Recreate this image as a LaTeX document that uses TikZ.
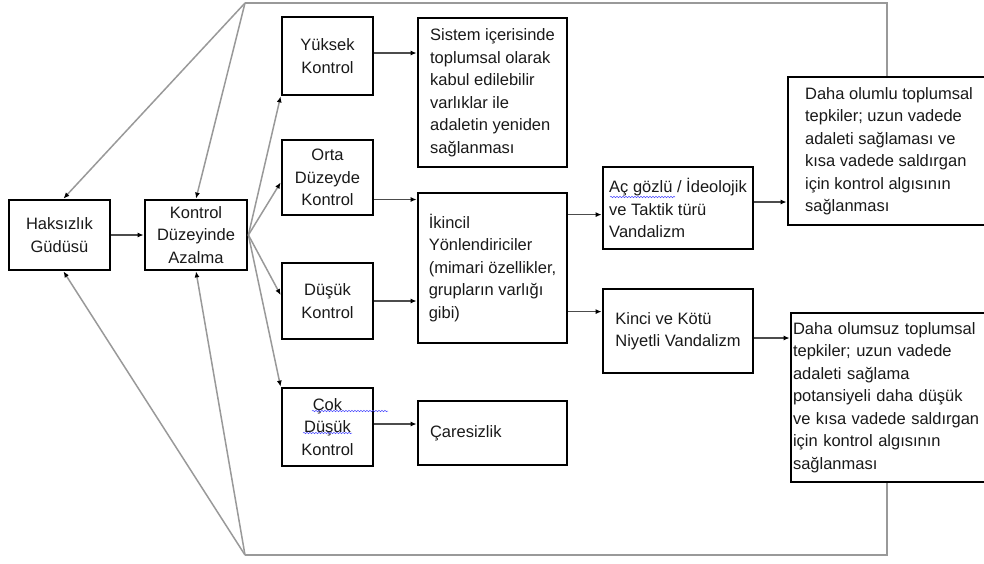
\documentclass[tikz,border=0pt]{standalone}
\usepackage{fontspec}
\setmainfont{Liberation Sans}
\usetikzlibrary{arrows.meta,calc,decorations.pathmorphing}
\begin{document}
\begin{tikzpicture}[x=1pt,y=-1pt,
  box/.style={draw=black, line width=2.8pt, inner sep=0pt, text=black!90,
    font=\fontsize{16.5}{22.5}\selectfont},
  fb/.style={draw=black!40, line width=1.5pt},
  fan/.style={fb, -{Latex[length=6pt,width=5pt,color=black]}},
  arr/.style={draw=black!70, line width=1.4pt, -{Latex[length=6pt,width=5pt,color=black]}},
  squig/.style={draw=blue!70, line width=0.5pt, decorate,
    decoration={snake, amplitude=0.7pt, segment length=3pt}}
]
\useasboundingbox (0,0) rectangle (984,563);

% left boxes
\node[box, minimum width=101pt, minimum height=70pt, align=center] (hak) at (59.5,235) {Haksızlık\\Güdüsü};
\node[box, minimum width=102pt, minimum height=70pt, align=center] (kon) at (196,235) {Kontrol\\Düzeyinde\\Azalma};

% control levels
\node[box, minimum width=91pt, minimum height=78pt, align=center] (yuk) at (327.5,56) {Yüksek\\Kontrol};
\node[box, minimum width=91pt, minimum height=75pt, align=center] (orta) at (327.5,177.5) {Orta\\Düzeyde\\Kontrol};
\node[box, minimum width=91pt, minimum height=76pt, align=center] (dus) at (327.5,301) {Düşük\\Kontrol};
\node[box, minimum width=91pt, minimum height=78pt, align=center] (cok) at (327.5,427) {Çok\\Düşük\\Kontrol};

% middle column
\node[box, minimum width=149pt, minimum height=149pt, align=left] (sis) at (492.5,92.5) {Sistem içerisinde\\toplumsal olarak\\kabul edilebilir\\varlıklar ile\\adaletin yeniden\\sağlanması};
\node[box, minimum width=149pt, minimum height=150pt, align=left] (ikn) at (492.5,268) {İkincil\\Yönlendiriciler\\(mimari özellikler,\\grupların varlığı\\gibi)};
\node[box, text width=125pt, inner xsep=12pt, minimum height=64pt, align=left] (car) at (492.5,433) {Çaresizlik};

% vandalism types
\node[box, minimum width=150pt, minimum height=82pt, align=left] (acg) at (678,208) {Aç gözlü / İdeolojik\\ve Taktik türü\\Vandalizm};
\node[box, minimum width=150pt, minimum height=84pt, align=left] (kin) at (678,331) {Kinci ve Kötü\\Niyetli Vandalizm};

% outcomes
\node[box, minimum width=202pt, minimum height=148pt, align=left] (d1) at (889,151) {Daha olumlu toplumsal\\tepkiler; uzun vadede\\adaleti sağlaması ve\\kısa vadede saldırgan\\için kontrol algısının\\sağlanması};
\node[box, text width=195pt, inner xsep=2pt, minimum height=169pt, align=left] (d2) at (890.5,397.5) {Daha olumsuz toplumsal\\tepkiler; uzun vadede\\adaleti sağlama\\potansiyeli daha düşük\\ve kısa vadede saldırgan\\için kontrol algısının\\sağlanması};

% feedback lines
\coordinate (tA) at (245,3);
\coordinate (bA) at (245,555);
\coordinate (d1t) at ($(d1.north)+(-2,0)$);
\coordinate (d2b) at ($(d2.south)+(-3.5,0)$);
\draw[fb] (d1t) -- (d1t |- tA) -- (tA);
\draw[fb] (d2b) -- (d2b |- bA) -- (bA);
\coordinate (hakT) at ($(hak.north)+(4,0)$);
\coordinate (hakB) at ($(hak.south)+(4,0)$);
\draw[fan] (tA) -- (hakT);
\draw[fan] (tA) -- (kon.north);
\draw[fan] (bA) -- (hakB);
\draw[fan] (bA) -- (kon.south);

% hak -> kon
\draw[arr] (hak.east) -- (kon.west);

% fan from kon
\coordinate (ortaIn) at ($(orta.west)+(0,5)$);
\coordinate (dusIn) at ($(dus.west)+(0,-6)$);
\draw[fan] (kon.east) -- (yuk.south west);
\draw[fan] (kon.east) -- (ortaIn);
\draw[fan] (kon.east) -- (dusIn);
\draw[fan] (kon.east) -- (cok.north west);

% horizontal arrows
\coordinate (p1) at ($(yuk.east)+(0,-3)$);
\draw[arr] (p1) -- (p1 -| sis.west);
\coordinate (p2) at ($(orta.east)+(0,22)$);
\draw[arr] (p2) -- (p2 -| ikn.west);
\draw[arr] (dus.east) -- (dus.east -| ikn.west);
\coordinate (p4) at ($(cok.east)+(0,-3)$);
\draw[arr] (p4) -- (p4 -| car.west);
\coordinate (p5) at ($(ikn.north east)+(0,23)$);
\draw[arr] (p5) -- (p5 -| acg.west);
\coordinate (p6) at ($(ikn.north east)+(0,120)$);
\draw[arr] (p6) -- (p6 -| kin.west);
\coordinate (p7) at ($(acg.east)+(0,-6)$);
\draw[arr] (p7) -- (p7 -| d1.west);
\coordinate (p8) at ($(kin.east)+(0,7)$);
\draw[arr] (p8) -- (p8 -| d2.west);

% spell-check squiggles
\draw[squig] (312,411) -- (388,411);
\draw[squig] (303,433) -- (352,433);
\draw[squig] (610,197) -- (675,197);
\end{tikzpicture}
\end{document}
